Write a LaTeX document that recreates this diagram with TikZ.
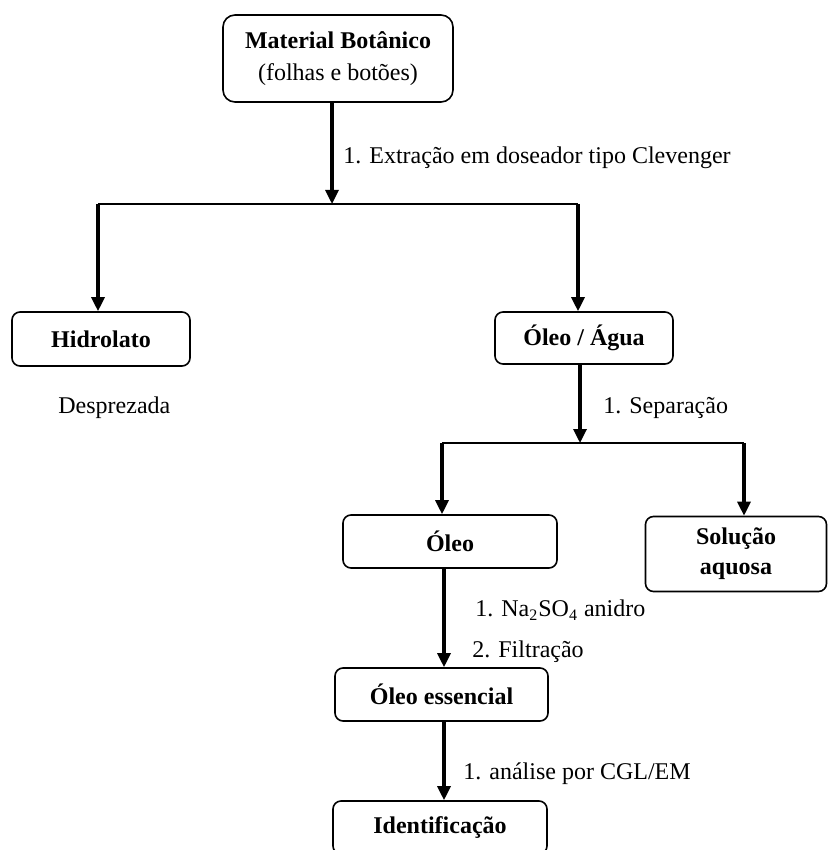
\documentclass[tikz,border=0pt]{standalone}
\usepackage{fontspec}
\setmainfont{Liberation Serif}
\usepackage{tikz}
\usetikzlibrary{arrows.meta}

\begin{document}
\begin{tikzpicture}[x=0.5pt,y=-0.5pt,font=\fontsize{12}{13}\selectfont]
		\clip (0,0) rectangle (828,850);
		\tikzstyle{CaixaStyle}=[draw=black,line width=0.8pt,rounded corners=4pt,align=center,inner sep=2pt,font=\fontsize{12}{15}\selectfont\bfseries]
		\tikzstyle{SetaStyle}=[line width=1.6pt,-{Triangle[length=7pt,width=6.5pt]}]
		\tikzstyle{LinhaStyle}=[line width=0.9pt]
		\tikzstyle{RotuloStyle}=[anchor=west,inner sep=0pt]
		%caixas
		\node[CaixaStyle,rounded corners=6pt,minimum width=115pt,minimum height=43.5pt] (mat) at (338,58.5) {Material Bot\^anico\\[1pt]{\mdseries (folhas e bot\~oes)}};
		\node[CaixaStyle,minimum width=89pt,minimum height=27pt] (hid) at (101,339) {Hidrolato};
		\node[CaixaStyle,minimum width=89pt,minimum height=26pt] (oa) at (584,338) {\'Oleo / \'Agua};
		\node[CaixaStyle,minimum width=107pt,minimum height=26.5pt] (oleo) at (450,541.5) {\'Oleo};
		\node[CaixaStyle,minimum width=90.5pt,minimum height=37.5pt] (sol) at (736,554) {Solu\c{c}\~ao\\aquosa};
		\node[CaixaStyle,minimum width=106.5pt,minimum height=26.5pt] (oe) at (441.5,694.5) {\'Oleo essencial};
		\node[CaixaStyle,minimum width=107pt,minimum height=26.5pt] (iden) at (440,827.5) {Identifica\c{c}\~ao};
		%pontos de ramificacao
		\coordinate (j1) at (332,204);
		\coordinate (j1e) at (98,204);
		\coordinate (j1d) at (578,204);
		\coordinate (j2) at (580,443);
		\coordinate (j2e) at (442,443);
		\coordinate (j2d) at (744,443);
		%textos
		\node[RotuloStyle] (t1) at (343,158) {1. Extra\c{c}\~ao em doseador tipo Clevenger};
		\node[RotuloStyle] (desp) at (58,408) {Desprezada};
		\node[RotuloStyle] (t2) at (603,408) {1. Separa\c{c}\~ao};
		\node[RotuloStyle] (t3) at (475,610) {1. Na\textsubscript{2}SO\textsubscript{4} anidro};
		\node[RotuloStyle] (t4) at (472,652) {2. Filtra\c{c}\~ao};
		\node[RotuloStyle] (t5) at (463,774) {1. an\'alise por CGL/EM};
		%ligacoes
		\draw[SetaStyle] (j1 |- mat.south) -- (j1);
		\draw[LinhaStyle] (j1e) -- (j1d);
		\draw[SetaStyle] (j1e) -- (j1e |- hid.north);
		\draw[SetaStyle] (j1d) -- (j1d |- oa.north);
		\draw[SetaStyle] (j2 |- oa.south) -- (j2);
		\draw[LinhaStyle] (j2e) -- (j2d);
		\draw[SetaStyle] (j2e) -- (j2e |- oleo.north);
		\draw[SetaStyle] (j2d) -- (j2d |- sol.north);
		\draw[SetaStyle] (oleo.south -| 444,0) -- (oe.north -| 444,0);
		\draw[SetaStyle] (oe.south -| 444,0) -- (iden.north -| 444,0);
\end{tikzpicture}
\end{document}
